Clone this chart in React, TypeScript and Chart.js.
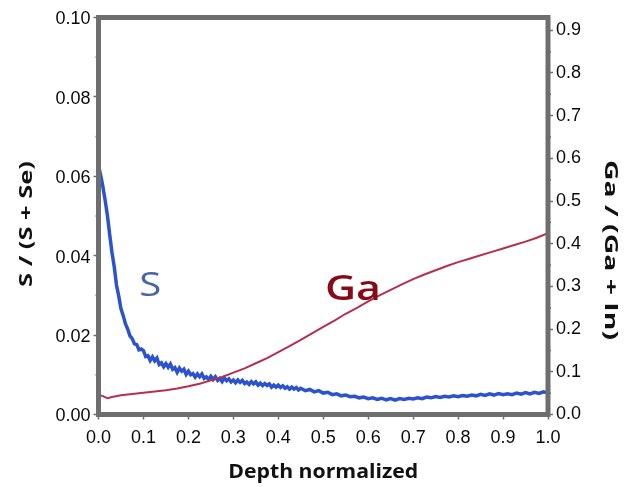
import React, { useEffect, useRef } from 'react';
import { Chart, registerables } from 'chart.js';

Chart.register(...registerables);

// Sulfur ratio S / (S + Se) versus normalized depth (left axis)
const sDepth = [
  0, 0.003, 0.006, 0.01, 0.015, 0.02, 0.025, 0.03, 0.035, 0.04, 0.045, 0.05, 0.055, 0.06, 0.065,
  0.07, 0.075, 0.08, 0.085, 0.09, 0.095,
  0.1, 0.105, 0.11, 0.115, 0.12, 0.125, 0.13, 0.135, 0.14, 0.145, 0.15, 0.155, 0.16, 0.165, 0.17,
  0.175, 0.18, 0.185, 0.19, 0.195, 0.2, 0.205, 0.21, 0.215, 0.22, 0.225, 0.23, 0.235, 0.24, 0.245,
  0.25, 0.255, 0.26, 0.265, 0.27, 0.275, 0.28, 0.285, 0.29, 0.295, 0.3, 0.305, 0.31, 0.315, 0.32,
  0.325, 0.33, 0.335, 0.34, 0.345, 0.35, 0.355, 0.36, 0.365, 0.37, 0.375, 0.38, 0.385, 0.39, 0.395,
  0.4, 0.405, 0.41, 0.415, 0.42, 0.425, 0.43, 0.435, 0.44, 0.445, 0.45,
  0.46, 0.47, 0.48, 0.49, 0.5, 0.51, 0.52, 0.53, 0.54, 0.55, 0.56, 0.57, 0.58, 0.59, 0.6, 0.61,
  0.62, 0.63, 0.64, 0.65, 0.66, 0.67, 0.68, 0.69, 0.7, 0.71, 0.72, 0.73, 0.74, 0.75, 0.76, 0.77,
  0.78, 0.79, 0.8, 0.81, 0.82, 0.83, 0.84, 0.85, 0.86, 0.87, 0.88, 0.89, 0.9, 0.91, 0.92, 0.93,
  0.94, 0.95, 0.96, 0.97, 0.98, 0.99, 1.0,
];
const sRatio = [
  0.0585, 0.0612, 0.0596, 0.0572, 0.0538, 0.05, 0.0452, 0.0408, 0.0372, 0.0326, 0.0298, 0.0266,
  0.0249, 0.0228, 0.0215, 0.0198, 0.0191, 0.0178, 0.0176, 0.0163, 0.0165,
  0.0161, 0.0146, 0.0148, 0.0136, 0.0145, 0.0135, 0.0142, 0.0126, 0.013, 0.012, 0.0128, 0.0119,
  0.0127, 0.0114, 0.0118, 0.0106, 0.0117, 0.0109, 0.0114, 0.0101, 0.0109, 0.01, 0.0103, 0.0094,
  0.0102, 0.0095, 0.0102, 0.0091, 0.0095, 0.0088, 0.0096, 0.0088, 0.0095, 0.0086, 0.0091, 0.0083,
  0.0092, 0.0085, 0.009, 0.0082, 0.0087, 0.008, 0.0087, 0.0081, 0.0086, 0.0078, 0.0082, 0.0076,
  0.0083, 0.0077, 0.0082, 0.0074, 0.0079, 0.0073, 0.0078, 0.0073, 0.0077, 0.0069, 0.0074, 0.0069,
  0.0074, 0.0068, 0.0072, 0.0066, 0.007, 0.0064, 0.0069, 0.0064, 0.0068, 0.0062, 0.0066,
  0.006, 0.0063, 0.0057, 0.006, 0.0054, 0.0056, 0.005, 0.0052, 0.0047, 0.0049, 0.0045, 0.0046,
  0.0042, 0.0044, 0.004, 0.0042, 0.0038, 0.0041, 0.0037, 0.004, 0.0036, 0.004, 0.0038, 0.0041,
  0.0039, 0.0042, 0.004, 0.0044, 0.0042, 0.0045, 0.0043, 0.0046, 0.0044, 0.0047, 0.0045, 0.0048,
  0.0046, 0.0049, 0.0047, 0.0051, 0.0048, 0.0052, 0.0049, 0.0053, 0.005, 0.0052, 0.005, 0.0054,
  0.0051, 0.0055, 0.0052, 0.0056, 0.0053, 0.0057, 0.0054,
];

// Gallium ratio Ga / (Ga + In) versus normalized depth (right axis)
const gaDepth = [
  0, 0.01, 0.02, 0.03, 0.05, 0.075, 0.1, 0.125, 0.15, 0.175, 0.2, 0.225, 0.25, 0.275, 0.3, 0.325,
  0.35, 0.375, 0.4, 0.425, 0.45, 0.475, 0.5, 0.525, 0.55, 0.575, 0.6, 0.625, 0.65, 0.675, 0.7,
  0.725, 0.75, 0.775, 0.8, 0.825, 0.85, 0.875, 0.9, 0.925, 0.95, 0.975, 1.0,
];
const gaRatio = [
  0.046, 0.043, 0.038, 0.041, 0.045, 0.048, 0.051, 0.054, 0.057, 0.061, 0.066, 0.072, 0.08, 0.088,
  0.098, 0.108, 0.12, 0.132, 0.146, 0.16, 0.175, 0.19, 0.205, 0.22, 0.236, 0.25, 0.265, 0.279,
  0.292, 0.305, 0.317, 0.328, 0.338, 0.348, 0.357, 0.365, 0.373, 0.381, 0.389, 0.397, 0.405, 0.414,
  0.425,
];

// Labelled ticks of the right-hand axis (its range runs a little past 0.9)
const gaTicks = [0, 0.1, 0.2, 0.3, 0.4, 0.5, 0.6, 0.7, 0.8, 0.9];

const leftTitle = 'S / (S + Se)';
const rightTitle = 'Ga / (Ga + In)';
const bottomTitle = 'Depth normalized';

// In-plot series names, anchored in data coordinates
const sName = { text: 'S', depth: 0.115, value: 0.0322 };
const gaName = { text: 'Ga', depth: 0.566, value: 0.292 };

const FRAME = '#6e6e6e';
const TICK_TEXT = '#0a0a0a';
const S_COLOR = '#2c52cc';
const GA_COLOR = '#b5304d';
const TICK_FONT = '"Liberation Sans", Arial, sans-serif';
const TITLE_FONT = '"Open Sans", "DejaVu Sans", sans-serif';

// Draws a string centred at (x, y), rotated, squeezed or stretched to a given length
function drawFitted(
  ctx: CanvasRenderingContext2D,
  text: string,
  x: number,
  y: number,
  rotation: number,
  length: number,
) {
  ctx.save();
  ctx.translate(x, y);
  ctx.rotate(rotation);
  const w = ctx.measureText(text).width;
  ctx.scale(length / w, 1);
  ctx.textAlign = 'center';
  ctx.textBaseline = 'middle';
  ctx.fillText(text, 0, 0);
  ctx.restore();
}

const decorations = {
  id: 'decorations',
  afterDatasetsDraw(chart: any) {
    const { ctx, chartArea: a, scales } = chart;
    ctx.save();

    // minor ticks
    ctx.strokeStyle = FRAME;
    ctx.lineWidth = 1.5;
    const yL = scales.y;
    for (let v = 0.01; v < 0.1; v += 0.02) {
      const p = yL.getPixelForValue(v);
      ctx.beginPath();
      ctx.moveTo(a.left - 3, p);
      ctx.lineTo(a.left, p);
      ctx.stroke();
    }
    const yR = scales.y2;
    for (let v = 0.05; v < 0.93; v += 0.1) {
      const p = yR.getPixelForValue(v);
      ctx.beginPath();
      ctx.moveTo(a.right, p);
      ctx.lineTo(a.right + 3, p);
      ctx.stroke();
    }

    // plot frame
    ctx.lineWidth = 5;
    ctx.strokeStyle = FRAME;
    ctx.strokeRect(a.left, a.top, a.right - a.left, a.bottom - a.top);

    // series names
    const xs = scales.x;
    ctx.font = `32px ${TITLE_FONT}`;
    ctx.fillStyle = '#4466a6';
    drawFitted(ctx, sName.text, xs.getPixelForValue(sName.depth), yL.getPixelForValue(sName.value), 0, 22);
    ctx.font = `600 34px ${TITLE_FONT}`;
    ctx.fillStyle = '#870a18';
    drawFitted(ctx, gaName.text, xs.getPixelForValue(gaName.depth), yR.getPixelForValue(gaName.value), 0, 56);

    // axis titles
    ctx.fillStyle = '#111111';
    ctx.font = `bold 17px ${TITLE_FONT}`;
    drawFitted(ctx, leftTitle, 27, (a.top + a.bottom) / 2 + 8, -Math.PI / 2, 126);
    drawFitted(ctx, rightTitle, 610, (a.top + a.bottom) / 2 + 34, Math.PI / 2, 180);
    ctx.font = `bold 20px ${TITLE_FONT}`;
    drawFitted(ctx, bottomTitle, (a.left + a.right) / 2, 472, 0, 190);

    ctx.restore();
  },
};

const axisGrid = {
  drawOnChartArea: false,
  drawTicks: true,
  tickLength: 5,
  tickColor: FRAME,
  tickWidth: 1.5,
};

export default function App() {
  const canvasRef = useRef<HTMLCanvasElement | null>(null);

  useEffect(() => {
    const canvas = canvasRef.current;
    if (!canvas) return;
    const chart = new Chart(canvas, {
      type: 'line',
      data: {
        datasets: [
          {
            label: 'Ga',
            data: gaDepth.map((d, i) => ({ x: d, y: gaRatio[i] })),
            yAxisID: 'y2',
            borderColor: GA_COLOR,
            borderWidth: 2,
            pointRadius: 0,
            tension: 0,
          },
          {
            label: 'S',
            data: sDepth.map((d, i) => ({ x: d, y: sRatio[i] })),
            yAxisID: 'y',
            borderColor: S_COLOR,
            borderWidth: 3.5,
            pointRadius: 0,
            tension: 0,
          },
        ],
      },
      options: {
        animation: false,
        responsive: false,
        maintainAspectRatio: false,
        devicePixelRatio: 1,
        layout: { padding: { top: 17.5, left: 0, right: 0, bottom: 0 } },
        plugins: { legend: { display: false }, tooltip: { enabled: false } },
        scales: {
          x: {
            type: 'linear',
            min: 0,
            max: 1,
            border: { display: false },
            grid: axisGrid,
            ticks: {
              stepSize: 0.1,
              padding: 8,
              maxRotation: 0,
              color: TICK_TEXT,
              font: { family: TICK_FONT, size: 18 },
              callback: (v: any) => Number(v).toFixed(1),
            },
            afterFit: (s: any) => {
              s.height = 72.5;
            },
          },
          y: {
            position: 'left',
            min: 0,
            max: 0.1,
            border: { display: false },
            grid: axisGrid,
            ticks: {
              stepSize: 0.02,
              padding: 3,
              labelOffset: 2,
              color: TICK_TEXT,
              font: { family: TICK_FONT, size: 18 },
              callback: (v: any) => Number(v).toFixed(2),
            },
            afterFit: (s: any) => {
              s.width = 98.5;
            },
          },
          y2: {
            position: 'right',
            min: 0,
            max: 0.93,
            border: { display: false },
            grid: axisGrid,
            ticks: {
              padding: 3,
              color: TICK_TEXT,
              font: { family: TICK_FONT, size: 18 },
              callback: (v: any) => Number(v).toFixed(1),
            },
            afterBuildTicks: (s: any) => {
              s.ticks = gaTicks.map((value) => ({ value }));
            },
            afterFit: (s: any) => {
              s.width = 76;
            },
          },
        },
      },
      plugins: [decorations],
    });
    return () => chart.destroy();
  }, []);

  return (
    <div style={{ position: 'fixed', left: 0, top: 0, width: 624, height: 487, background: '#ffffff' }}>
      <canvas ref={canvasRef} width={624} height={487} style={{ display: 'block' }} />
    </div>
  );
}
